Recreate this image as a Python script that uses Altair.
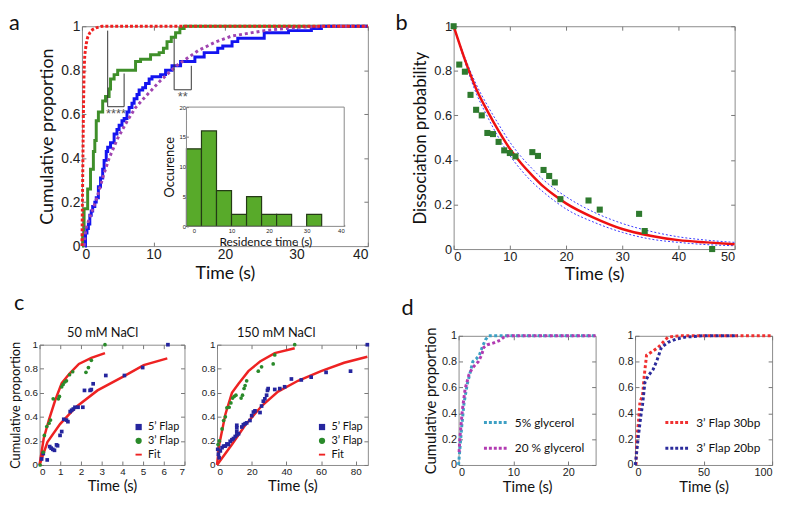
import altair as alt
import pandas as pd

TF = "Lato"
LF = "Liberation Sans"

# ---------------- panel a : cumulative residence times ----------------
a_green_t = [0, 0.1, 0.3, 0.8, 1.2, 1.6, 1.8, 2.0, 2.3, 2.9, 3.3, 3.8, 4.0, 4.5, 5.0, 7.5, 8.2, 9.6, 10.8, 11.4, 11.9, 12.5, 13.1, 13.7, 14.3, 40]
a_green_p = [0, 0.05, 0.17, 0.26, 0.35, 0.43, 0.48, 0.57, 0.61, 0.66, 0.68, 0.715, 0.76, 0.78, 0.80, 0.84, 0.85, 0.87, 0.88, 0.90, 0.93, 0.95, 0.97, 0.99, 1.0, 1.0]
a_blue_t = [0.4, 0.5, 0.7, 0.9, 1.1, 1.3, 1.5, 1.8, 2.0, 2.3, 2.6, 2.9, 3.1, 3.4, 3.6, 4.0, 4.5, 4.9, 5.2, 5.6, 5.9, 6.3, 6.6, 7.0, 7.3, 7.7, 8.0, 8.5, 8.9, 9.4, 9.8, 11.0, 11.7, 12.6, 13.8, 15.8, 17.1, 19.0, 19.7, 21.0, 21.8, 25.5, 28.9, 32.1, 33.5, 40]
a_blue_p = [0, 0.06, 0.08, 0.10, 0.14, 0.16, 0.18, 0.20, 0.22, 0.27, 0.31, 0.35, 0.39, 0.43, 0.45, 0.47, 0.51, 0.53, 0.55, 0.57, 0.58, 0.61, 0.63, 0.65, 0.67, 0.69, 0.71, 0.72, 0.74, 0.76, 0.77, 0.78, 0.80, 0.82, 0.84, 0.86, 0.88, 0.90, 0.91, 0.93, 0.945, 0.97, 0.98, 0.99, 1.0, 1.0]
a_red_t = [0, 0.1, 0.2, 0.3, 0.4, 0.6, 0.8, 1.1, 1.5, 2.0, 2.8, 40]
a_red_p = [0, 0.3, 0.6, 0.8, 0.87, 0.92, 0.95, 0.97, 0.985, 0.993, 1.0, 1.0]
a_purple_t = [0.3, 0.55, 1.2, 2.1, 3.0, 3.8, 5.0, 6.3, 7.5, 8.6, 10.9, 13.2, 16.3, 18.8, 20.9, 25.5, 30, 35, 40]
a_purple_p = [0, 0.08, 0.14, 0.22, 0.32, 0.40, 0.49, 0.567, 0.63, 0.67, 0.75, 0.82, 0.89, 0.93, 0.955, 0.98, 0.995, 1.0, 1.0]
a_br1_t = [3.6, 3.6, 5.9, 5.9]
a_br1_p = [0.98, 0.634, 0.634, 0.785]
a_br2_t = [12.9, 12.9, 15.3, 15.3]
a_br2_p = [0.945, 0.711, 0.711, 0.82]
a_star_t = [4.75, 14.1]
a_star_p = [0.600, 0.680]
a_star_txt = ["****", "**"]
# inset histogram
hist_lo = [-2, 2, 6, 10, 14, 18, 22, 30]
hist_hi = [2, 6, 10, 14, 18, 22, 26, 34]
hist_n = [13, 16, 6, 2, 5, 2, 2, 2]

# ---------------- panel b : dissociation probability ----------------
b_t = [0, 1, 2, 3, 4, 5, 6, 7, 8, 9, 10, 11, 14, 15, 16, 17, 18, 19, 24, 26, 33, 34, 46]
b_p = [1.0, 0.828, 0.796, 0.692, 0.625, 0.600, 0.521, 0.516, 0.481, 0.443, 0.431, 0.416, 0.435, 0.418, 0.355, 0.328, 0.299, 0.224, 0.218, 0.177, 0.158, 0.081, 0.0]
b_fit_t = [0, 2, 4, 6, 8, 10, 12, 14, 16, 18, 20, 25, 30, 35, 40, 45, 50]
b_fit_p = [1.0, 0.85, 0.72, 0.62, 0.53, 0.45, 0.385, 0.33, 0.28, 0.24, 0.205, 0.14, 0.09, 0.06, 0.04, 0.03, 0.022]
b_up_p = [1.0, 0.86, 0.74, 0.645, 0.56, 0.48, 0.415, 0.36, 0.31, 0.27, 0.235, 0.165, 0.115, 0.08, 0.055, 0.04, 0.03]
b_lo_p = [1.0, 0.84, 0.70, 0.595, 0.50, 0.42, 0.355, 0.30, 0.255, 0.215, 0.18, 0.12, 0.075, 0.045, 0.03, 0.02, 0.015]

# ---------------- panel c : flaps at two salt concentrations ----------------
c_series = ["5\u2019 Flap", "3\u2019 Flap", "Fit"]
c1_blue_t = [0.1, 0.18, 0.37, 0.49, 0.56, 0.64, 0.72, 0.82, 0.87, 0.99, 1.07, 1.17, 1.3, 1.37, 1.48, 1.55, 1.63, 1.71, 1.86, 2.09, 2.17, 2.44, 2.5, 2.59, 3.2, 4.1, 4.98, 6.2]
c1_blue_p = [0.05, 0.095, 0.042, 0.153, 0.14, 0.13, 0.122, 0.167, 0.16, 0.246, 0.278, 0.38, 0.373, 0.36, 0.444, 0.455, 0.465, 0.48, 0.48, 0.48, 0.62, 0.62, 0.627, 0.675, 0.744, 0.744, 0.81, 1.0]
c1_green_t = [0.03, 0.18, 0.23, 0.35, 0.46, 0.53, 0.66, 0.91, 0.96, 1.07, 1.14, 1.22, 1.3, 1.45, 1.6, 2.24, 2.36, 2.5, 3.16]
c1_green_p = [0.0, 0.106, 0.246, 0.32, 0.347, 0.373, 0.55, 0.55, 0.57, 0.65, 0.67, 0.69, 0.70, 0.75, 0.775, 0.77, 0.81, 0.87, 1.0]
c1_fit1_t = [0, 0.2, 0.46, 0.76, 1.07, 1.45, 1.9, 2.5, 3.16]
c1_fit1_p = [0, 0.22, 0.38, 0.54, 0.68, 0.76, 0.84, 0.89, 0.93]
c1_fit2_t = [0, 0.38, 0.99, 1.75, 2.8, 4.04, 5.03, 6.17]
c1_fit2_p = [0, 0.19, 0.34, 0.48, 0.62, 0.735, 0.83, 0.886]
c2_blue_t = [0.4, 0.8, 1.2, 1.9, 2.9, 3.8, 4.8, 5.7, 6.6, 7.6, 8.6, 9.5, 10.5, 11.4, 11.4, 11.4, 11.4, 12.4, 14.3, 15.2, 16.2, 17.1, 19.0, 20.0, 21.0, 21.9, 24.8, 25.7, 26.7, 27.6, 28.6, 29.1, 29.5, 33.3, 36.2, 39.0, 42.9, 48.6, 54.3, 62.9, 77.0, 86.7]
c2_blue_p = [0.13, 0.09, 0.06, 0.117, 0.144, 0.157, 0.157, 0.175, 0.17, 0.197, 0.21, 0.22, 0.237, 0.25, 0.28, 0.31, 0.33, 0.26, 0.316, 0.335, 0.343, 0.35, 0.37, 0.41, 0.44, 0.45, 0.436, 0.49, 0.53, 0.55, 0.58, 0.62, 0.635, 0.628, 0.635, 0.65, 0.715, 0.707, 0.73, 0.77, 0.78, 1.0]
c2_green_t = [0.6, 1.3, 2.9, 3.8, 4.8, 5.7, 7.0, 8.0, 9.0, 9.9, 10.9, 13.9, 14.7, 15.6, 16.2, 17.1, 23.8, 25.7, 32.4, 33.3, 44.8]
c2_green_p = [0.17, 0.20, 0.30, 0.37, 0.40, 0.476, 0.48, 0.516, 0.556, 0.57, 0.58, 0.556, 0.58, 0.636, 0.66, 0.70, 0.78, 0.816, 0.84, 0.915, 1.0]
c2_fit1_t = [0, 1.3, 4.8, 8.6, 12.4, 18.1, 24.8, 33.3, 44.8]
c2_fit1_p = [0, 0.17, 0.42, 0.60, 0.675, 0.78, 0.86, 0.93, 0.97]
c2_fit2_t = [0, 8.6, 16.2, 25.7, 35.2, 46.7, 60.0, 73.3, 86.7]
c2_fit2_p = [0, 0.17, 0.33, 0.49, 0.61, 0.70, 0.78, 0.85, 0.90]

# ---------------- panel d : glycerol and flap length ----------------
d1_series = ["5% glycerol", "20 % glycerol"]
d1_teal_t = [0, 0.24, 0.6, 1.0, 1.6, 2.2, 2.6, 3.2, 3.8, 4.3, 4.9, 5.5, 25]
d1_teal_p = [0, 0.125, 0.31, 0.48, 0.63, 0.73, 0.80, 0.82, 0.85, 0.91, 0.97, 1.0, 1.0]
d1_purple_t = [0.1, 0.24, 0.7, 1.2, 1.9, 2.5, 3.6, 4.2, 4.6, 5.2, 6.4, 7.6, 8.4, 9.1, 25]
d1_purple_p = [0.1, 0.21, 0.43, 0.59, 0.70, 0.75, 0.80, 0.85, 0.91, 0.93, 0.945, 0.966, 0.995, 1.0, 1.0]
d2_series = ["3\u2019 Flap 30bp", "3\u2019 Flap 20bp"]
d2_red_t = [0.7, 1.2, 2.4, 3.6, 5.5, 6.7, 8.4, 12, 16.8, 20.4, 24, 32, 100]
d2_red_p = [0, 0.2, 0.32, 0.49, 0.54, 0.69, 0.85, 0.875, 0.91, 0.95, 0.99, 1.0, 1.0]
d2_blue_t = [0.2, 1.2, 2.4, 4.1, 5.5, 7.2, 9.6, 13.2, 16, 19.2, 24, 30, 37, 49, 75]
d2_blue_p = [0, 0.1, 0.22, 0.37, 0.47, 0.64, 0.69, 0.74, 0.81, 0.91, 0.95, 0.975, 0.99, 1.0, 1.0]

P_TICKS = [0, 0.2, 0.4, 0.6, 0.8, 1]


def ax(values, title=None, fmt=None, lfs=13, tfs=18, pad=6, tpad=4, **kw):
    d = dict(values=values, grid=False, domain=False, labelFont=LF, labelFontSize=lfs,
             labelColor="#222", tickColor="#777", tickSize={"expr": "-4"}, labelPadding=pad,
             labelOverlap=False, titleFont=TF, titleFontSize=tfs, titleFontWeight="normal",
             titleColor="#111", titlePadding=tpad, title=title)
    if fmt:
        d["format"] = fmt
    d.update(kw)
    return alt.Axis(**d)


def df_line(t, p, **extra):
    d = {"t": t, "p": p, "o": list(range(len(t)))}
    for k, v in extra.items():
        d[k] = v
    return pd.DataFrame(d)


ONE = pd.DataFrame({"k": [0]})


def label_text(txt, x, y, size=22, align="left", font=TF):
    return alt.Chart(ONE).mark_text(text=txt, font=font, fontSize=size, align=align,
                                    baseline="alphabetic", color="#111").encode(
        x=alt.value(x), y=alt.value(y))


def spacer(w, h):
    return alt.Chart(ONE).mark_rect(opacity=0).encode(
        x=alt.value(0), x2=alt.value(1), y=alt.value(0), y2=alt.value(1)).properties(
        width=w, height=h, view=alt.ViewBackground(stroke="transparent"))


def box_ticks(xs, ys, xvals, x0):
    """Inward ticks on the top and right edges (matlab style box)."""
    common = dict(grid=False, domain=False, labels=False, title=None, tickSize={"expr": "-4"},
                  tickColor="#777", minExtent=0)
    df = pd.DataFrame({"t": [x0], "p": [0]})
    return alt.Chart(df).mark_rect(opacity=0).encode(
        x=alt.X("t:Q", scale=xs, axis=alt.Axis(orient="top", values=xvals, **common)),
        x2="t:Q",
        y=alt.Y("p:Q", scale=ys, axis=alt.Axis(orient="right", values=P_TICKS, **common)),
        y2="p:Q")


# ---- panel a
xs_a = alt.Scale(domain=[0, 40], nice=False, zero=False)
ys_a = alt.Scale(domain=[0, 1], nice=False)
xa_vals = [0, 10, 20, 30, 40]
xa_axis = ax(xa_vals, "Time (s)", lfs=14, tfs=18, tpad=3)
ya_axis = ax(P_TICKS, "Cumulative proportion", fmt=".1~f", lfs=14, tfs=18)


def a_line(t, p, **mark):
    return alt.Chart(df_line(t, p)).mark_line(**mark).encode(
        x=alt.X("t:Q", scale=xs_a, axis=xa_axis),
        y=alt.Y("p:Q", scale=ys_a, axis=ya_axis), order="o:Q")


a_green = a_line(a_green_t, a_green_p, interpolate="step-after", color="#3f8f2a", strokeWidth=3)
a_blue = a_line(a_blue_t, a_blue_p, interpolate="step-after", color="#1414f0", strokeWidth=3)
a_purple = a_line(a_purple_t, a_purple_p, color="#a045b0", strokeWidth=3, strokeDash=[3, 3])
a_red = a_line(a_red_t, a_red_p, color="#f02020", strokeWidth=3, strokeDash=[3, 2])
a_br1 = a_line(a_br1_t, a_br1_p, color="#333", strokeWidth=1)
a_br2 = a_line(a_br2_t, a_br2_p, color="#333", strokeWidth=1)
a_stars = alt.Chart(pd.DataFrame({"t": a_star_t, "p": a_star_p, "s": a_star_txt})).mark_text(
    font=LF, fontSize=13, color="#555", baseline="middle").encode(
    x=alt.X("t:Q", scale=xs_a, axis=xa_axis), y=alt.Y("p:Q", scale=ys_a, axis=ya_axis), text="s:N")
a_main = alt.layer(a_green, a_blue, a_purple, a_red, a_br1, a_br2, a_stars,
                   label_text("a", -74, 4))
a_main_box = alt.layer(a_main, box_ticks(xs_a, ys_a, xa_vals, 0)).resolve_axis(
    x="independent", y="independent")

xs_in = alt.Scale(domain=[-2, 40], range=[106, 266], nice=False, zero=False)
ys_in = alt.Scale(domain=[0, 20], range=[203, 82], nice=False)
in_x_axis = ax([0, 10, 20, 30, 40], "Residence time (s)", lfs=6, tfs=12, pad=3, tpad=3,
               orient="bottom", offset=-20, tickSize={"expr": "-2"})
in_y_axis = ax([0, 5, 10, 15, 20], "Occurence", lfs=6, tfs=13, pad=3, tpad=2,
               orient="left", offset=-106, tickSize={"expr": "-2"})
df_hist = pd.DataFrame({"lo": hist_lo, "hi": hist_hi, "n": hist_n})
in_bars = alt.Chart(df_hist).mark_bar(color="#58aa2a", stroke="#243a16", strokeWidth=1.2).encode(
    x=alt.X("lo:Q", scale=xs_in, axis=in_x_axis), x2="hi:Q",
    y=alt.Y("n:Q", scale=ys_in, axis=in_y_axis), y2=alt.Y2(datum=0))
in_frame = alt.Chart(ONE).mark_rect(fillOpacity=0, stroke="#888", strokeWidth=1).encode(
    x=alt.X(datum=-2, scale=xs_in, axis=in_x_axis), x2=alt.X2(datum=40),
    y=alt.Y(datum=0, scale=ys_in, axis=in_y_axis), y2=alt.Y2(datum=20))
a_inset = alt.layer(in_bars, in_frame)

panel_a = alt.layer(a_main_box, a_inset).resolve_scale(x="independent", y="independent").properties(
    width=290, height=223)

# ---- panel b
xs_b = alt.Scale(domain=[0, 50], nice=False, zero=False)
ys_b = alt.Scale(domain=[0, 1], nice=False)
xb_vals = [0, 10, 20, 30, 40, 50]
xb_axis = ax(xb_vals, "Time (s)", lfs=13, tfs=18, tpad=2)
yb_axis = ax(P_TICKS, "Dissociation probability", fmt=".1~f", lfs=13, tfs=17)


def b_line(t, p, **mark):
    return alt.Chart(df_line(t, p)).mark_line(**mark).encode(
        x=alt.X("t:Q", scale=xs_b, axis=xb_axis),
        y=alt.Y("p:Q", scale=ys_b, axis=yb_axis), order="o:Q")


b_up = b_line(b_fit_t, b_up_p, color="#3a3aff", strokeWidth=1, strokeDash=[2, 2], interpolate="monotone")
b_lo = b_line(b_fit_t, b_lo_p, color="#3a3aff", strokeWidth=1, strokeDash=[2, 2], interpolate="monotone")
b_fit = b_line(b_fit_t, b_fit_p, color="#ee1111", strokeWidth=2.5, interpolate="monotone")
b_pts = alt.Chart(pd.DataFrame({"t": b_t, "p": b_p})).mark_square(size=38, color="#2e7a2e", opacity=1).encode(
    x=alt.X("t:Q", scale=xs_b, axis=xb_axis), y=alt.Y("p:Q", scale=ys_b, axis=yb_axis))
b_main = alt.layer(b_up, b_lo, b_fit, b_pts, label_text("b", -59, 4))
panel_b = alt.layer(b_main, box_ticks(xs_b, ys_b, xb_vals, 0)).resolve_axis(
    x="independent", y="independent").properties(width=285, height=226)

# ---- panel c
c_color = alt.Scale(domain=c_series, range=["#25259e", "#2a8a2a", "#ee2222"])
c_shape = alt.Scale(domain=c_series, range=["square", "circle", "M-1,-0.3H1V0.3H-1Z"])
c_leg = alt.Legend(orient="bottom-right", title=None, offset=5, labelFont=TF, labelFontSize=11,
                   symbolSize=40, rowPadding=2, labelOffset=4, padding=0, labelColor="#111")


def c_panel(bt, bp, gt, gp, f1t, f1p, f2t, f2p, xdom, xvals, ytitle, title, tx, w, extra=None):
    xs = alt.Scale(domain=xdom, nice=False, zero=False)
    ys = alt.Scale(domain=[0, 1], nice=False)
    xaxis = ax(xvals, "Time (s)", lfs=10, tfs=15, pad=6, tpad=2)
    yaxis = ax(P_TICKS, ytitle, fmt=".1~f", lfs=10, tfs=13, pad=6, tpad=1)
    fits = pd.concat([df_line(f1t, f1p, c=["f1"] * len(f1t)), df_line(f2t, f2p, c=["f2"] * len(f2t))])
    fit = alt.Chart(fits).mark_line(color="#ee2222", strokeWidth=2.5).encode(
        x=alt.X("t:Q", scale=xs, axis=xaxis), y=alt.Y("p:Q", scale=ys, axis=yaxis),
        detail="c:N", order="o:Q")
    pts_df = pd.DataFrame({"t": bt + gt, "p": bp + gp,
                           "s": [c_series[0]] * len(bt) + [c_series[1]] * len(gt)})
    pts = alt.Chart(pts_df).mark_point(filled=True, size=14, opacity=1).encode(
        x=alt.X("t:Q", scale=xs, axis=xaxis), y=alt.Y("p:Q", scale=ys, axis=yaxis),
        color=alt.Color("s:N", scale=c_color, legend=c_leg),
        shape=alt.Shape("s:N", scale=c_shape, legend=c_leg))
    layers = [fit, pts, label_text(title, tx, -8, size=13, align="center")]
    if extra is not None:
        layers.append(extra)
    main = alt.layer(*layers)
    return alt.layer(main, box_ticks(xs, ys, xvals, xdom[0])).resolve_axis(
        x="independent", y="independent").properties(width=w, height=122)


panel_c1 = c_panel(c1_blue_t, c1_blue_p, c1_green_t, c1_green_p, c1_fit1_t, c1_fit1_p, c1_fit2_t, c1_fit2_p,
                   [0, 7], [0, 1, 2, 3, 4, 5, 6, 7], "Cumulative proportion", "50 mM NaCl", 64, 147,
                   extra=label_text("c", -26, -35))
panel_c2 = c_panel(c2_blue_t, c2_blue_p, c2_green_t, c2_green_p, c2_fit1_t, c2_fit1_p, c2_fit2_t, c2_fit2_p,
                   [0, 87], [0, 20, 40, 60, 80], None, "150 mM NaCl", 60, 153)


# ---- panel d
def d_panel(series, colors, t1, p1, t2, p2, xdom, xvals, ytitle, extra=None, flush=False):
    xs = alt.Scale(domain=xdom, nice=False, zero=False)
    ys = alt.Scale(domain=[0, 1], nice=False)
    if flush:
        xaxis = ax(xvals, "Time (s)", lfs=11, tfs=15, pad=6, tpad=2, labelFlush=True)
    else:
        xaxis = ax(xvals, "Time (s)", lfs=11, tfs=15, pad=6, tpad=2)
    yaxis = ax(P_TICKS, ytitle, fmt=".1~f", lfs=11, tfs=15, pad=6, tpad=3)
    df = pd.concat([df_line(t1, p1, s=[series[0]] * len(t1)), df_line(t2, p2, s=[series[1]] * len(t2))])
    leg = alt.Legend(orient="bottom-right", title=None, offset=11, labelFont=TF, labelFontSize=12,
                     symbolType="stroke", symbolStrokeWidth=3, symbolDash=[3, 2], symbolSize=600,
                     rowPadding=6, labelOffset=5, padding=0, labelColor="#111")
    lines = alt.Chart(df).mark_line(strokeWidth=3, strokeDash=[3, 2.5]).encode(
        x=alt.X("t:Q", scale=xs, axis=xaxis), y=alt.Y("p:Q", scale=ys, axis=yaxis),
        color=alt.Color("s:N", scale=alt.Scale(domain=series, range=colors), legend=leg),
        order="o:Q")
    layers = [lines]
    if extra is not None:
        layers.append(extra)
    main = alt.layer(*layers)
    return alt.layer(main, box_ticks(xs, ys, xvals, xdom[0])).resolve_axis(
        x="independent", y="independent").properties(width=139, height=131)


panel_d1 = d_panel(d1_series, ["#3da0c4", "#b23cb2"], d1_teal_t, d1_teal_p, d1_purple_t, d1_purple_p,
                   [0, 25], [0, 10, 20], "Cumulative proportion", extra=label_text("d", -58, -21))
panel_d2 = d_panel(d2_series, ["#f03030", "#2b2b9c"], d2_red_t, d2_red_p, d2_blue_t, d2_blue_p,
                   [0, 100], [0, 50, 100], None, flush=True)

ab_row = alt.hconcat(panel_a, panel_b, spacing=87, bounds="flush")
top = alt.hconcat(spacer(43, 1), ab_row, spacing=0, bounds="flush")
c_row = alt.hconcat(panel_c1, panel_c2, spacing=33, bounds="flush").resolve_scale(
    color="independent", shape="independent")
c_col = alt.vconcat(spacer(1, 9), c_row, spacing=0, bounds="flush").resolve_scale(
    color="independent", shape="independent")
d_row = alt.hconcat(panel_d1, panel_d2, spacing=40, bounds="flush").resolve_scale(color="independent")
bottom = alt.hconcat(c_col, d_row, spacing=28).resolve_scale(color="independent", shape="independent")

chart = alt.vconcat(top, bottom, spacing=7).resolve_scale(color="independent", shape="independent").properties(
    padding=0, background="white"
).configure_view(stroke="#8a8a8a", strokeWidth=1)

chart.save("out.html", embed_options={"renderer": "svg", "actions": False})
